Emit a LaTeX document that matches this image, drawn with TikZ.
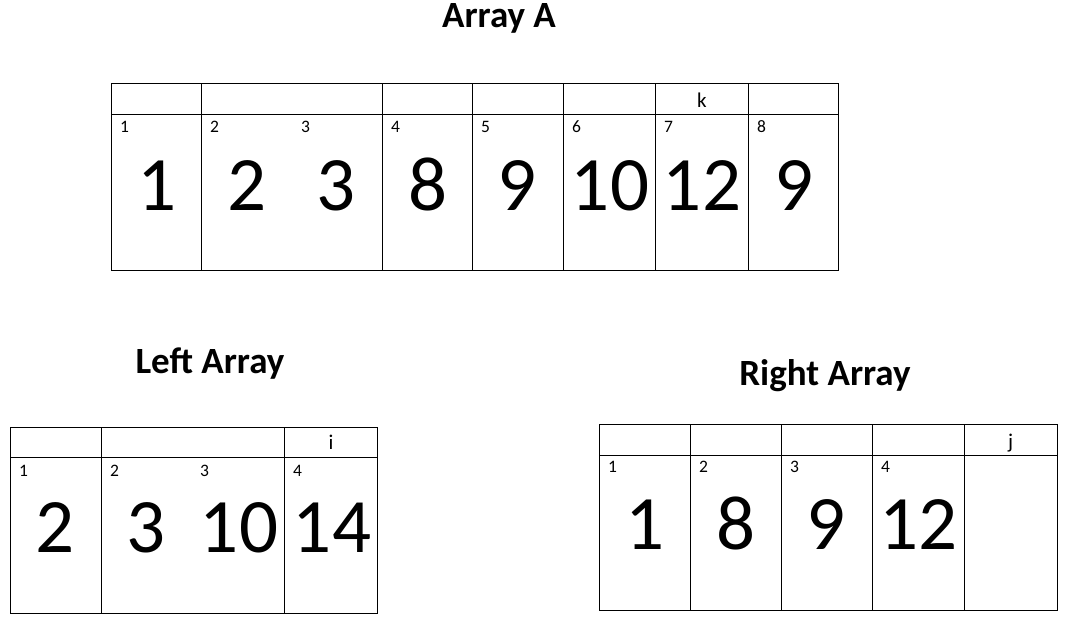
\documentclass[tikz,border=0pt]{standalone}
\usepackage{fontspec}
\setmainfont{Carlito}
\begin{document}
\begin{tikzpicture}[x=1pt,y=-1pt,
  cellbox/.style={draw=black,line width=1.2pt,rectangle,inner sep=0pt,anchor=north west},
  bignum/.style={anchor=base,inner sep=0pt,font=\fontsize{77}{80}\selectfont},
  idx/.style={anchor=base west,inner sep=0pt,font=\fontsize{17.5}{19}\selectfont},
  ptr/.style={anchor=base,inner sep=0pt,font=\fontsize{21}{24}\selectfont},
  ttl/.style={anchor=base,inner sep=0pt,font=\bfseries\fontsize{37}{40}\selectfont}]
\useasboundingbox (0,0) rectangle (1067,625);
% ---------- Array A ----------
\node[ttl] (tA) at (499,27) {Array A};
\foreach \l/\r [count=\n] in {111/201,201/382,382/472,472/563,563/655,655/748,748/838}{
  \pgfmathsetmacro\w{\r-\l}
  \node[cellbox,minimum width=\w pt,minimum height=31pt] (Ah\n) at (\l,83) {};
  \node[cellbox,minimum width=\w pt,minimum height=156pt] (Ab\n) at (\l,114) {};
}
\node[ptr] (kA) at (702,107) {k};
\foreach \x/\t [count=\n] in {120/1,210/2,301/3,391/4,481/5,572/6,664/7,757/8}{
  \node[idx] (Ai\n) at (\x,132.5) {\t};
}
\foreach \x/\t [count=\n] in {157/1,247/2,336/3,428/8,517/9,610/10,702/12,794/9}{
  \node[bignum] (Av\n) at (\x,210) {\t};
}
% ---------- Left Array ----------
\node[ttl] (tL) at (210,373) {Left Array};
\foreach \l/\r [count=\n] in {10/101,101/284,284/377}{
  \pgfmathsetmacro\w{\r-\l}
  \node[cellbox,minimum width=\w pt,minimum height=30.5pt] (Lh\n) at (\l,426.5) {};
  \node[cellbox,minimum width=\w pt,minimum height=156pt] (Lb\n) at (\l,457) {};
}
\node[ptr] (iL) at (331,449) {i};
\foreach \x/\t [count=\n] in {19/1,110/2,200/3,293/4}{
  \node[idx] (Li\n) at (\x,476) {\t};
}
\foreach \x/\t [count=\n] in {55.5/2,146.5/3,239/10,332/14}{
  \node[bignum] (Lv\n) at (\x,552) {\t};
}
% ---------- Right Array ----------
\node[ttl] (tR) at (825,385) {Right Array};
\foreach \l/\r [count=\n] in {599/690,690/781,781/872,872/964,964/1057}{
  \pgfmathsetmacro\w{\r-\l}
  \node[cellbox,minimum width=\w pt,minimum height=31pt] (Rh\n) at (\l,423.5) {};
  \node[cellbox,minimum width=\w pt,minimum height=155.5pt] (Rb\n) at (\l,454.5) {};
}
\node[ptr] (jR) at (1010.5,448) {j};
\foreach \x/\t [count=\n] in {608/1,699/2,790/3,881/4}{
  \node[idx] (Ri\n) at (\x,472) {\t};
}
\foreach \x/\t [count=\n] in {645.5/1,736/8,826/9,918.5/12}{
  \node[bignum] (Rv\n) at (\x,549) {\t};
}
\end{tikzpicture}
\end{document}
